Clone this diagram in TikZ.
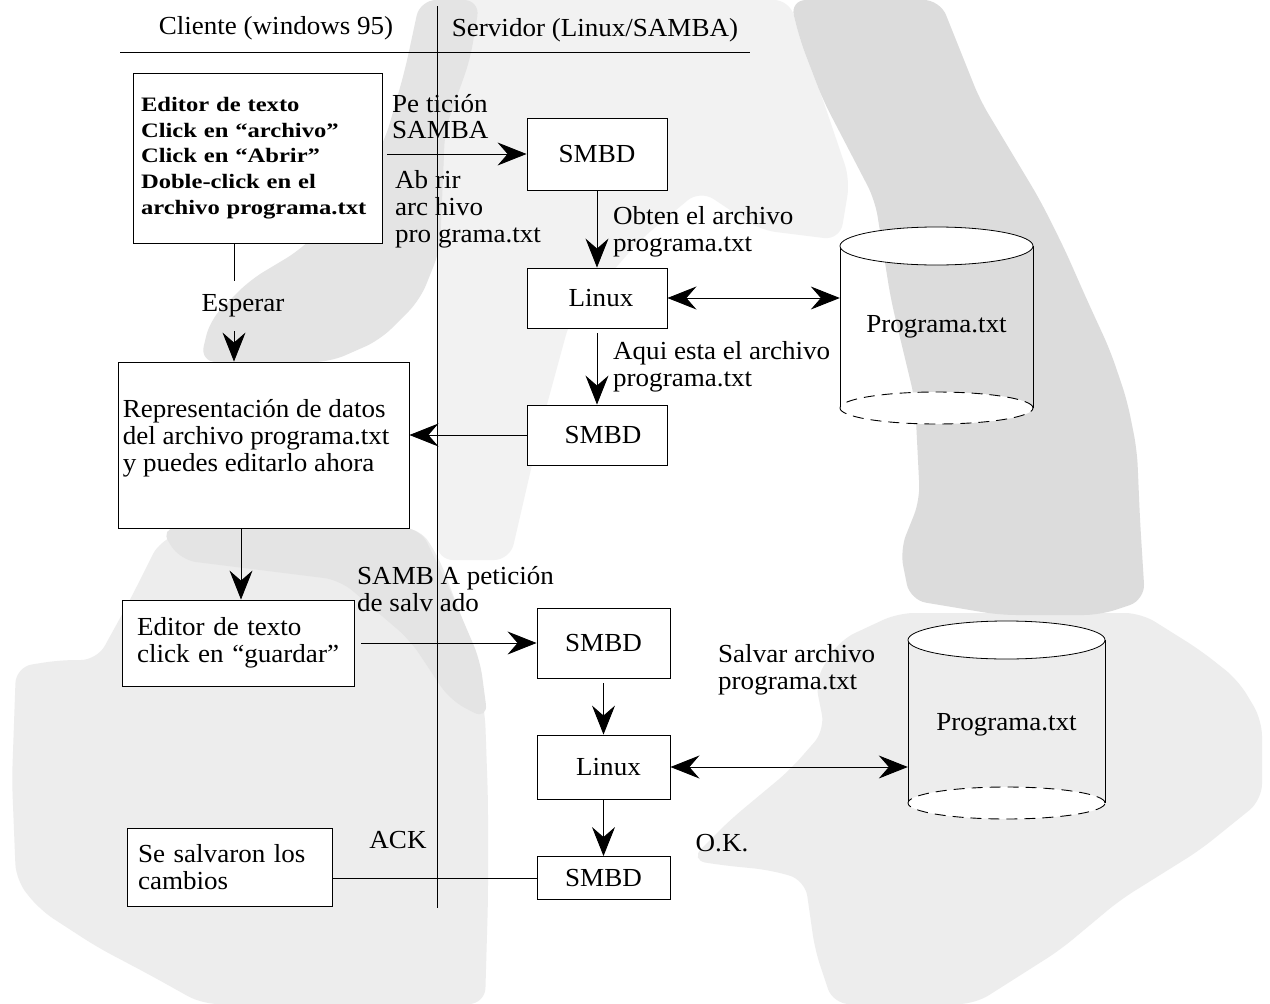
\documentclass[tikz,border=0pt]{standalone}
\usepackage{fontspec}
\setmainfont{Liberation Serif}[FakeStretch=1.04]
\newfontfamily\boxfont{Liberation Serif}[FakeStretch=1.2]
\usetikzlibrary{arrows.meta}
\newcommand{\bodyfont}{\fontsize{26}{26.8}\selectfont}
\newcommand{\boldbox}{\boxfont\bfseries\fontsize{20.5}{25.7}\selectfont}
\definecolor{wmdark}{HTML}{DCDCDC}
\definecolor{wmmid}{HTML}{E4E4E4}
\definecolor{wmlight}{HTML}{EDEDED}
\definecolor{wmpale}{HTML}{F2F2F2}
\begin{document}
\begin{tikzpicture}[x=1pt,y=-1pt,
  box/.style={draw=black, line width=0.9pt, fill=white, inner ysep=0pt, font=\bodyfont},
  lbl/.style={inner sep=0pt, align=left, font=\bodyfont},
  tip/.tip={Stealth[length=29pt,width=23pt,inset=10pt]},
  arr/.style={-tip, line width=0.9pt},
  darr/.style={tip-tip, line width=0.9pt},
  plain/.style={line width=0.9pt}]
\useasboundingbox (0,0) rectangle (1270,1004);
\fill[white] (0,0) rectangle (1270,1004);
% ---- watermark (penguin silhouette, approximated) ----
\begin{scope}[rounded corners=16pt]
\fill[wmpale] (437,0) -- (790,0) -- (800,40) -- (823,100) -- (850,180) -- (840,240) -- (760,230) -- (700,190) -- (640,240) -- (570,320) -- (540,430) -- (510,560) -- (437,560) -- cycle;
\fill[wmlight] (16,667) -- (60,660) -- (97,660) -- (130,600) -- (160,540) -- (200,528) -- (420,528) -- (440,560) -- (470,640) -- (485,713) -- (488,800) -- (488,900) -- (485,1004) -- (202,1004) -- (150,975) -- (97,947) -- (40,910) -- (16,880) -- (12,780) -- cycle;
\fill[wmlight] (898,613) -- (1141,613) -- (1200,650) -- (1238,680) -- (1262,720) -- (1262,800) -- (1200,850) -- (1120,900) -- (1060,950) -- (975,1004) -- (833,1004) -- (815,950) -- (805,880) -- (770,870) -- (720,865) -- (690,860) -- (730,820) -- (790,770) -- (825,730) -- (815,680) -- (840,640) -- cycle;
\fill[wmmid] (420,0) -- (480,0) -- (470,60) -- (445,130) -- (440,250) -- (420,300) -- (380,340) -- (330,362) -- (200,362) -- (210,320) -- (250,280) -- (300,250) -- (350,200) -- (385,140) -- (405,70) -- cycle;
\fill[wmmid] (160,528) -- (420,528) -- (450,590) -- (480,660) -- (488,720) -- (450,700) -- (410,640) -- (340,580) -- (180,560) -- cycle;
\fill[wmdark] (790,0) -- (940,0) -- (960,50) -- (980,100) -- (1010,150) -- (1040,200) -- (1065,250) -- (1087,300) -- (1110,350) -- (1127,400) -- (1137,450) -- (1140,520) -- (1145,600) -- (1100,615) -- (1000,615) -- (910,600) -- (900,550) -- (920,500) -- (915,400) -- (891,300) -- (875,200) -- (823,100) -- (800,40) -- cycle;
\end{scope}
% ---- header ----
\node[lbl] (hcli) at (276,28) {Cliente (windows 95)};
\node[lbl] (hsrv) at (595,30) {Servidor (Linux/SAMBA)};
\draw[plain] (120,52) -- (750,52);
\draw[plain] (437,6) -- (437,908);
% ---- cylinders ----
\draw[line width=0.8pt] (840,246) -- (840,408) (1033,246) -- (1033,408);
\draw[line width=0.8pt, fill=white] (936.5,246) ellipse [x radius=96.5pt, y radius=19pt];
\draw[line width=0.9pt, fill=white, dash pattern=on 11pt off 7pt] (936.5,408) ellipse [x radius=96.5pt, y radius=16pt];
\node[lbl, minimum width=193pt, minimum height=162pt, align=center] (cyl1) at (936.5,327) {Programa.txt};
\draw[line width=0.8pt] (908,640) -- (908,803) (1105,640) -- (1105,803);
\draw[line width=0.8pt, fill=white] (1006.5,640) ellipse [x radius=98.5pt, y radius=19pt];
\draw[line width=0.9pt, fill=white, dash pattern=on 11pt off 7pt] (1006.5,803) ellipse [x radius=98.5pt, y radius=16pt];
\node[lbl, minimum width=197pt, minimum height=163pt, align=center] (cyl2) at (1006.5,725) {Programa.txt};
% ---- boxes ----
\node[box, minimum width=249pt, minimum height=170pt, inner xsep=8pt, text width=233pt, align=left, font=\boldbox] (box1) at (257.5,158)
  {Editor de texto\\Click en “archivo”\\Click en “Abrir”\\Doble-click en el\\archivo programa.txt};
\node[box, minimum width=140pt, minimum height=72pt] (smbd1) at (597,154) {SMBD};
\node[box, minimum width=140pt, minimum height=60pt] (linux1) at (597,298) {\hspace*{8pt}Linux};
\node[box, minimum width=140pt, minimum height=60pt] (smbd2) at (597,435) {\hspace*{12pt}SMBD};
\node[box, minimum width=291pt, minimum height=166pt,
  label={[lbl, anchor=west, xshift=5pt, yshift=7pt]west:{Representación de datos\\del archivo programa.txt\\y puedes editarlo ahora}}] (rep) at (263.5,445) {};
\node[box, minimum width=232pt, minimum height=86pt, inner xsep=15pt, text width=202pt, align=left] (ed2) at (238,643)
  {Editor de texto\\click en “guardar”};
\node[box, minimum width=133pt, minimum height=70pt] (smbd3) at (603.5,643) {SMBD};
\node[box, minimum width=133pt, minimum height=64pt] (linux2) at (603.5,767) {\hspace*{10pt}Linux};
\node[box, minimum width=133pt, minimum height=43pt] (smbd4) at (603.5,878) {SMBD};
\node[box, minimum width=205pt, minimum height=78pt, inner xsep=11pt, text width=183pt, align=left] (save) at (229.5,867)
  {Se salvaron los\\cambios};
% ---- labels ----
\node[lbl, anchor=west] (lpet) at (392,116.5) {Pe tición\\SAMBA};
\node[lbl, anchor=west] (labr) at (395,209.5) {Ab rir\\arc hivo\\pro grama.txt};
\node[lbl, anchor=west] (lobt) at (613,231.5) {Obten el archivo\\programa.txt};
\node[lbl, anchor=west] (laqui) at (613,366.5) {Aqui esta el archivo\\programa.txt};
\node[lbl, anchor=west] (lsamb) at (357,589) {SAMB A petición\\de salv ado};
\node[lbl, anchor=west] (lsalv) at (718,669.5) {Salvar archivo\\programa.txt};
\node[lbl] (lack) at (398,840) {ACK};
\node[lbl] (lok) at (722,843) {O.K.};
\node[lbl, inner ysep=14pt] (lesp) at (243,306) {Esperar};
% ---- connectors ----
\coordinate (espx) at (234,0);
\coordinate (repx) at (241,0);
\draw[arr] ([xshift=5pt]box1.east |- smbd1.west) -- (smbd1.west);
\draw[arr] (smbd1.south) -- (linux1.north);
\draw[darr] (linux1.east) -- (linux1.east -| cyl1.west);
\draw[arr] ([yshift=-5pt]linux1.south) -- (smbd2.north);
\draw[arr] (smbd2.west) -- (smbd2.west -| rep.east);
\draw[plain] (box1.south -| espx) -- (espx |- lesp.north);
\draw[arr] (espx |- lesp.south) -- (espx |- rep.north);
\draw[arr] (rep.south -| repx) -- (repx |- ed2.north);
\draw[arr] ([xshift=7pt]ed2.east) -- (ed2.east -| smbd3.west);
\draw[arr] ([yshift=-5pt]smbd3.south) -- (linux2.north);
\draw[darr] (linux2.east) -- (linux2.east -| cyl2.west);
\draw[arr] (linux2.south) -- (smbd4.north);
\draw[plain] (smbd4.west) -- (smbd4.west -| save.east);
\end{tikzpicture}
\end{document}
